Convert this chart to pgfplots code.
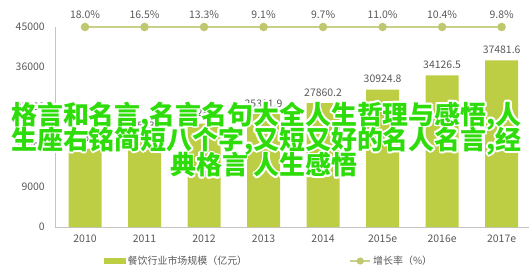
\documentclass[border=0pt]{standalone}
\usepackage{pgfplots}
\pgfplotsset{compat=1.18}
\usetikzlibrary{calc}
\usepackage{fontspec}
\setmainfont{Noto Sans CJK SC}
\definecolor{barc}{HTML}{BDCE45}
\definecolor{linec}{HTML}{C9D08A}
\definecolor{markc}{HTML}{BFC86E}
\definecolor{txt}{HTML}{595959}
\definecolor{axc}{HTML}{C4C4C4}
\definecolor{ovg}{HTML}{2EDC0A}
\begin{document}
\begin{tikzpicture}[x=1bp,y=1bp]
\useasboundingbox (0,0) rectangle (529,277);
\begin{axis}[
  at={(55.25bp,50bp)}, anchor=south west,
  scale only axis, width=473.75bp, height=200bp,
  xmin=-0.5, xmax=7.46, ymin=0, ymax=45000,
  clip=false,
  axis x line*=bottom, axis y line*=left,
  axis line style={axc, line width=0.9bp},
  xtick={0,...,7},
  xticklabels={2010,2011,2012,2013,2014,2015e,2016e,2017e},
  ytick={0,9000,18000,27000,36000,45000},
  major tick length=0pt,
  tick label style={font=\fontsize{10.5}{12}\selectfont, text=txt},
  /pgf/number format/assume math mode=true,
  scaled y ticks=false,
  yticklabel style={/pgf/number format/1000 sep={}, xshift=-7bp},
  xticklabel style={yshift=-4bp},
  legend style={at={(0.451,-0.17)}, anchor=center, draw=none, fill=none,
    font=\fontsize{10}{12}\selectfont, text=txt,
    legend columns=2, /tikz/every even column/.append style={column sep=100bp},
    inner sep=0pt},
]
\addplot[ybar, bar width=33bp, bar shift=0pt, fill=barc, draw=none,
  legend image code/.code={\fill[barc] (0bp,-3bp) rectangle (22bp,3bp);},
  nodes near coords,
  every node near coord/.append style={font=\fontsize{10.5}{12}\selectfont, text=txt, yshift=3bp},
  /pgf/number format/.cd, fixed, precision=1, fixed zerofill, 1000 sep={}, assume math mode=true]
coordinates {(0,17636.6) (1,20543.8) (2,23283.2) (3,25391.9) (4,27860.2) (5,30924.8) (6,34126.5) (7,37481.6)};
\addlegendentry{餐饮行业市场规模（亿元）}
\addplot[linec, line width=2bp, mark=*, mark size=3.2bp, mark options={fill=markc, draw=markc},
  point meta=explicit symbolic,
  nodes near coords,
  every node near coord/.append style={font=\fontsize{10.5}{12}\selectfont, text=txt, yshift=4bp},
  legend image code/.code={\draw[linec, line width=2bp] (0bp,0bp) -- (20bp,0bp); \fill[markc] (10bp,0bp) circle (2.5bp);}]
coordinates {(0,45000) [18.0\%] (1,45000) [16.5\%] (2,45000) [13.3\%] (3,45000) [9.1\%] (4,45000) [9.7\%] (5,45000) [11.0\%] (6,45000) [10.4\%] (7,45000) [9.8\%]};
\addlegendentry{增长率（\%）}
\end{axis}
\tikzset{ov/.style={anchor=west, inner sep=0pt, font=\fontsize{26}{28}\bfseries\selectfont}}
\foreach \a in {0,30,...,330}{
  \node[ov, text=white] at ($(11,161)+(\a:1.7)$) {格言和名言,名言名句大全人生哲理与感悟,人};
  \node[ov, text=white] at ($(11,136)+(\a:1.7)$) {生座右铭简短八个字,又短又好的名人名言,经};
  \node[ov, text=white] at ($(170,112)+(\a:1.7)$) {典格言 人生感悟};
}
\node[ov, text=ovg] at (11,161) {格言和名言,名言名句大全人生哲理与感悟,人};
\node[ov, text=ovg] at (11,136) {生座右铭简短八个字,又短又好的名人名言,经};
\node[ov, text=ovg] at (170,112) {典格言 人生感悟};
\end{tikzpicture}
\end{document}
